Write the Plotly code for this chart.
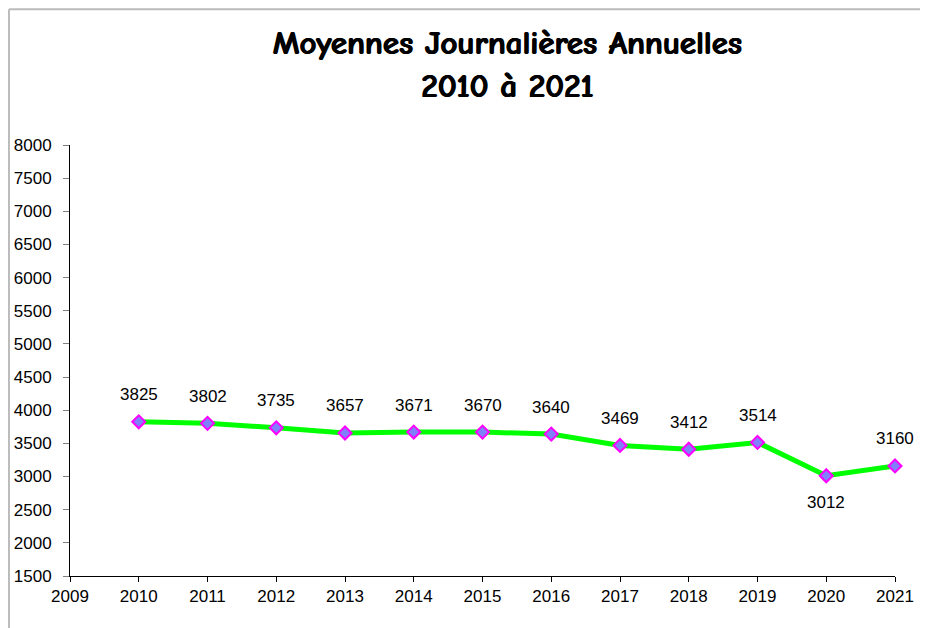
import plotly.graph_objects as go

years = [2010, 2011, 2012, 2013, 2014, 2015, 2016, 2017, 2018, 2019, 2020, 2021]
moyennes = [3825, 3802, 3735, 3657, 3671, 3670, 3640, 3469, 3412, 3514, 3012, 3160]
label_below = [False] * 10 + [True, False]

y_ticks = list(range(1500, 8001, 500))
x_ticks = list(range(2009, 2022))

fig = go.Figure()
fig.add_trace(go.Scatter(
    x=years, y=moyennes,
    mode="lines+markers",
    line={"color": "#00FF00", "width": 5},
    marker={"symbol": "diamond", "size": 10, "color": "#8080FF",
            "line": {"color": "#FF00FF", "width": 2}},
    cliponaxis=False,
    showlegend=False,
))

# value labels, above the point except for 2020
for yr, val, below in zip(years, moyennes, label_below):
    fig.add_annotation(x=yr, y=val, text=str(val), showarrow=False,
                       yshift=-27 if below else 27,
                       font={"family": "Liberation Sans, Arial", "size": 17,
                             "color": "black"})

fig.update_layout(
    width=928, height=628,
    margin={"l": 62, "r": 41, "t": 137, "b": 60},
    paper_bgcolor="white", plot_bgcolor="white",
    title={"text": "<b>Moyennes Journalières Annuelles<br>2010 à 2021</b>",
           "x": 0.538, "xanchor": "center", "y": 0.927, "yanchor": "top",
           "font": {"family": "Comic Neue, Lato, DejaVu Sans", "size": 33,
                    "color": "black", "weight": 900,
                    "shadow": "0.8px 0 0 black, -0.4px 0 0 black"}},
    font={"family": "Liberation Sans, Arial", "size": 17, "color": "black"},
)
fig.update_xaxes(range=[2009, 2021], tickvals=x_ticks, showgrid=False,
                 zeroline=False, showline=True, linecolor="black", linewidth=1,
                 ticks="outside", ticklen=5, tickcolor="black",
                 automargin=False, tickfont={"size": 17})
fig.update_yaxes(range=[1500, 8000], tickvals=y_ticks, showgrid=False,
                 zeroline=False, showline=True, linecolor="black", linewidth=1,
                 ticks="outside", ticklen=6, tickcolor="#808080",
                 ticklabelstandoff=8, automargin=False, tickfont={"size": 17})

# light grey frame on left and top of the chart area
fig.add_shape(type="line", xref="paper", yref="paper",
              x0=-0.074, x1=1.1, y0=1.315, y1=1.315,
              line={"color": "#BBBBBB", "width": 2})
fig.add_shape(type="line", xref="paper", yref="paper",
              x0=-0.074, x1=-0.074, y0=-0.2, y1=1.315,
              line={"color": "#BBBBBB", "width": 2})

fig.write_html("out.html")
